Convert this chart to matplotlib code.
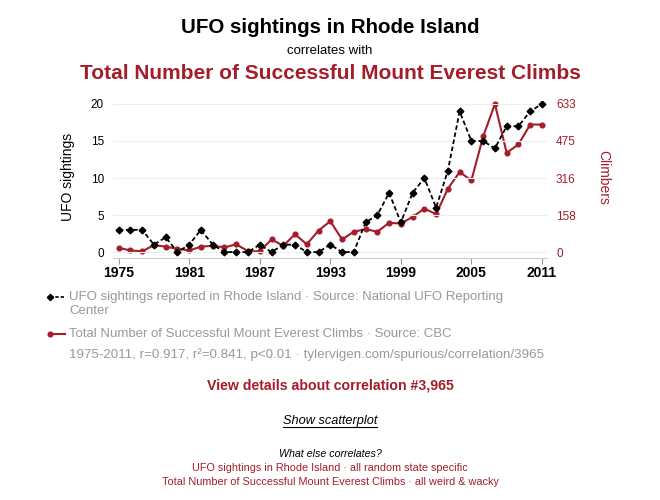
"""
UFO sightings in Rhode Island vs. Mount Everest climbs — spurious correlation chart
"""

import matplotlib
matplotlib.use("Agg")
import matplotlib.pyplot as plt
from matplotlib.lines import Line2D

# Données
years = list(range(1975, 2012))
ufo_sightings = [3, 3, 3, 1, 2, 0, 1, 3, 1, 0, 0, 0, 1, 0, 1, 1, 0, 0, 1, 0,
                 0, 4, 5, 8, 4, 8, 10, 6, 11, 19, 15, 15, 14, 17, 17, 19, 20]
everest_climbs = [18, 7, 3, 30, 23, 14, 7, 23, 27, 20, 33, 4, 3, 54, 27, 76, 33,
                  92, 132, 54, 87, 98, 87, 125, 122, 150, 186, 162, 271, 342, 306,
                  494, 633, 424, 460, 545, 545]
left_ticks = [0, 5, 10, 15, 20]
right_ticks = [0, 158, 316, 475, 633]
x_ticks = [1975, 1981, 1987, 1993, 1999, 2005, 2011]

RED = "#a51d2a"
GREY = "#999999"
W, H = 660, 500

plt.rcParams["font.family"] = ["Liberation Sans", "DejaVu Sans"]

fig = plt.figure(figsize=(W / 100, H / 100), dpi=100)


def fx(px):
    return px / W


def fy(py):
    return 1 - py / H


# Axes principal (position en pixels de la référence)
ax = fig.add_axes([fx(113), fy(258), fx(547) - fx(113), fy(101) - fy(258)])
ymin, ymax = -0.8, 20.4
ax.set_xlim(1974.52, 2011.43)
ax.set_ylim(ymin, ymax)

ax2 = ax.twinx()
ax2.set_ylim(ymin * 633 / 20, ymax * 633 / 20)

# Séries
ufo_style = dict(color="black", linewidth=1.3, linestyle=(0, (2.5, 1.5)),
                 marker="D", markersize=3.4)
red_style = dict(color=RED, linewidth=1.5, marker="o", markersize=3.4)
ax2.plot(years, everest_climbs, zorder=3, **red_style)
ax.plot(years, ufo_sightings, zorder=4, **ufo_style)
ax.set_zorder(ax2.get_zorder() + 1)
ax.patch.set_visible(False)

# Mise en forme
for a in (ax, ax2):
    for side in ("top", "left", "right"):
        a.spines[side].set_visible(False)
ax.spines["bottom"].set_color("#cccccc")
ax2.spines["bottom"].set_visible(False)

ax.set_yticks(left_ticks)
ax.set_yticklabels([str(t) for t in left_ticks], fontsize=8.5)
ax.tick_params(axis="y", length=0, pad=6.5)
ax.grid(axis="y", color="#eeeeee", linewidth=0.8)
ax.set_axisbelow(True)

ax.set_xticks(x_ticks)
ax.set_xticklabels([str(t) for t in x_ticks], fontsize=10, fontweight="bold")
ax.tick_params(axis="x", length=4, color="#999999", pad=2)

ax2.set_yticks(right_ticks)
ax2.set_yticklabels([str(t) for t in right_ticks], fontsize=8.5, color=RED)
ax2.tick_params(axis="y", length=0, pad=6.5)

fig.text(fx(68), fy(177), "UFO sightings", rotation=90, fontsize=10,
         ha="center", va="center")
fig.text(fx(603), fy(177), "Climbers", rotation=270, fontsize=10,
         color=RED, ha="center", va="center")

# Titres
fig.text(0.5, fy(33), "UFO sightings in Rhode Island", ha="center",
         va="baseline", fontsize=14.8, fontweight="bold")
fig.text(0.5, fy(54), "correlates with", ha="center", va="baseline", fontsize=9.5)
fig.text(0.5, fy(79), "Total Number of Successful Mount Everest Climbs",
         ha="center", va="baseline", fontsize=15, fontweight="bold", color=RED)

# Légende (tracée à la main : marqueur à gauche du trait)
fig.add_artist(Line2D([fx(50), fx(64)], [fy(297), fy(297)], color="black",
                      linewidth=1.2, linestyle=(0, (2, 1.2))))
fig.add_artist(Line2D([fx(50)], [fy(297)], color="black", marker="D",
                      markersize=3.2, linestyle="none"))
fig.add_artist(Line2D([fx(50), fx(65)], [fy(334), fy(334)], color=RED,
                      linewidth=1.5))
fig.add_artist(Line2D([fx(50.5)], [fy(334)], color=RED, marker="o",
                      markersize=3.4, linestyle="none"))

fig.text(fx(69), fy(297), "UFO sightings reported in Rhode Island · Source: "
         "National UFO Reporting", fontsize=9.5, color=GREY, va="center")
fig.text(fx(69), fy(311), "Center", fontsize=9.5, color=GREY, va="center")
fig.text(fx(69), fy(334), "Total Number of Successful Mount Everest Climbs · "
         "Source: CBC", fontsize=9.5, color=GREY, va="center")
fig.text(fx(69), fy(355), "1975-2011, r=0.917, r²=0.841, p<0.01 · "
         "tylervigen.com/spurious/correlation/3965",
         fontsize=9.6, color=GREY, va="center")

# Liens du bas
fig.text(0.5, fy(385), "View details about correlation #3,965", ha="center",
         va="center", fontsize=10.2, fontweight="bold", color=RED)
scatter_txt = fig.text(0.5, fy(421), "Show scatterplot", ha="center",
                       va="center", fontsize=9.2, style="italic")
fig.text(0.5, fy(454), "What else correlates?", ha="center", va="center",
         fontsize=7.7, style="italic")
fig.text(0.5, fy(468), "UFO sightings in Rhode Island · all random state specific",
         ha="center", va="center", fontsize=7.8, color=RED)
fig.text(0.5, fy(482), "Total Number of Successful Mount Everest Climbs · all weird & wacky",
         ha="center", va="center", fontsize=7.8, color=RED)

# Soulignement de "Show scatterplot"
fig.canvas.draw()
bb = scatter_txt.get_window_extent()
fig.add_artist(Line2D([bb.x0 / W, bb.x1 / W], [fy(427), fy(427)],
                      color="black", linewidth=0.8))

fig.savefig("out.png", dpi=100)
